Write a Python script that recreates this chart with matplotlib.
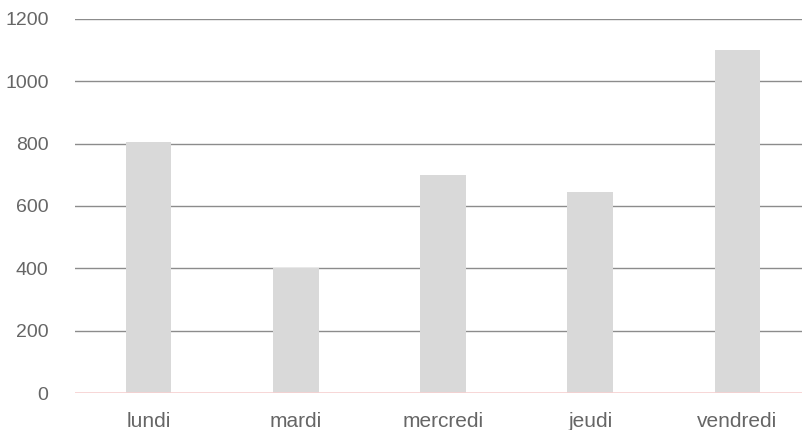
import matplotlib
matplotlib.use("Agg")
import matplotlib.pyplot as plt

categories = ["lundi", "mardi", "mercredi", "jeudi", "vendredi"]
values = [806, 402, 700, 645, 1100]
yticks = [0, 200, 400, 600, 800, 1000, 1200]

plt.rcParams['font.family'] = ['Liberation Sans', 'DejaVu Sans']

fig = plt.figure(figsize=(8.03, 4.30), dpi=100)
ax = fig.add_axes([75/803, 1-393/430, (811-75)/803, (393-19)/430])

x = list(range(len(categories)))
ax.bar(x, values, width=0.31, color="#d9d9d9", zorder=2)
ax.set_xlim(-0.5, len(categories)-0.5)
ax.set_ylim(0, 1200)
ax.set_yticks(yticks)
ax.set_yticklabels([str(v) for v in yticks])
ax.set_xticks(x)
ax.set_xticklabels(categories)

for v in yticks[1:]:
    ax.axhline(v, color="#8c8c8c", linewidth=1.0, zorder=1)
ax.axhline(0, color="#f6d0d0", linewidth=1.2, zorder=3)

for s in ax.spines.values():
    s.set_visible(False)
ax.tick_params(axis='both', length=0, labelcolor="#666666")
ax.tick_params(axis='y', pad=19, labelsize=14)
ax.tick_params(axis='x', pad=14, labelsize=15)

fig.savefig("out.png", dpi=100)
